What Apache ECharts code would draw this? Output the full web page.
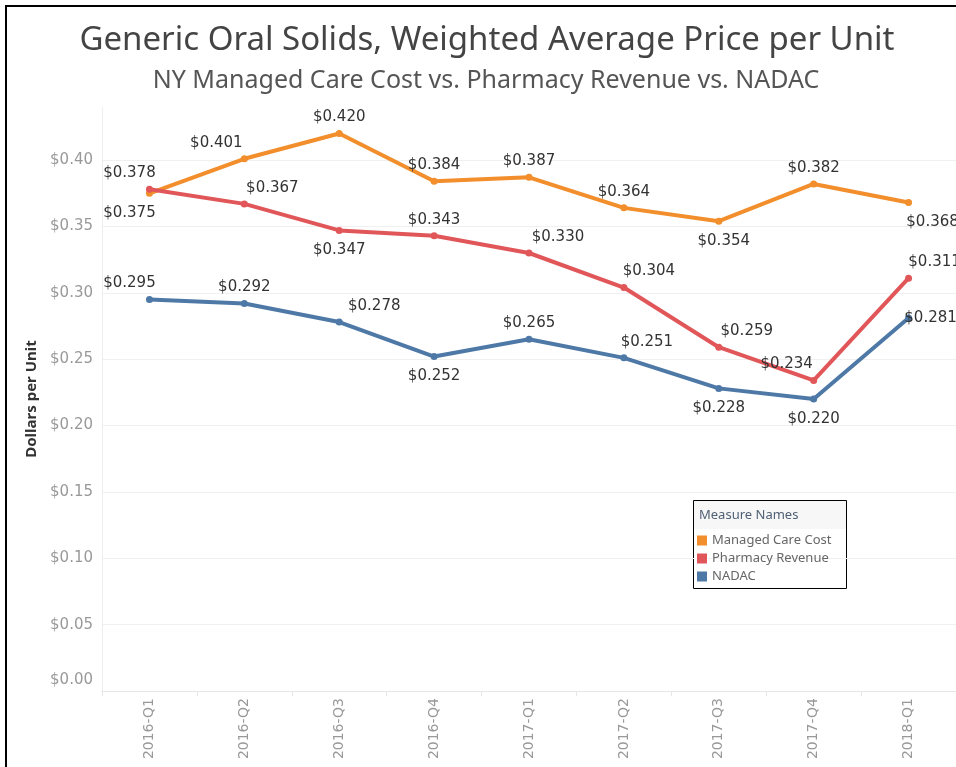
<!DOCTYPE html>
<html lang="en">
<head>
    <meta charset="UTF-8">
    <title>Generic Oral Solids</title>
    <style>
        html, body { margin: 0; padding: 0; background: #fff; }
    </style>
</head>
<body>
    <div id="chart" style="width: 956px; height: 767px;"></div>

    <script src="https://cdn.jsdelivr.net/npm/echarts@6/dist/echarts.min.js"></script>
    <script>
        const quarters = ['2016-Q1', '2016-Q2', '2016-Q3', '2016-Q4', '2017-Q1', '2017-Q2', '2017-Q3', '2017-Q4', '2018-Q1']

        const managedCare = [0.375, 0.401, 0.420, 0.384, 0.387, 0.364, 0.354, 0.382, 0.368]
        const pharmacyRevenue = [0.378, 0.367, 0.347, 0.343, 0.330, 0.304, 0.259, 0.234, 0.311]
        const nadac = [0.295, 0.292, 0.278, 0.252, 0.265, 0.251, 0.228, 0.220, 0.281]

        const seriesNames = ['Managed Care Cost', 'Pharmacy Revenue', 'NADAC']
        const colors = ['#F28E2B', '#E15759', '#4E79A7']

        // where tableau put each mark label (above / below, and a sideways nudge)
        const mcPos = ['bottom', 'top', 'top', 'top', 'top', 'top', 'bottom', 'top', 'bottom']
        const mcDx = [-20, -28, 0, 0, 0, 0, 5, 0, 24]
        const prPos = ['top', 'top', 'bottom', 'top', 'top', 'top', 'top', 'top', 'top']
        const prDx = [-20, 28, 0, 0, 29, 25, 28, -27, 26]
        const naPos = ['top', 'top', 'top', 'bottom', 'top', 'top', 'bottom', 'bottom', 'inside']
        const naDx = [-20, 0, 35, 0, 0, 23, 0, 0, 22]

        const labelFont = 'DejaVu Sans'

        function buildData(values, pos, dx) {
            return values.map(function (v, i) {
                return {
                    value: v,
                    label: {
                        position: pos[i],
                        distance: pos[i] === 'bottom' ? 9 : 5,
                        offset: [dx[i], 0]
                    }
                }
            })
        }

        function makeSeries(name, values, pos, dx, color) {
            return {
                name: name,
                type: 'line',
                data: buildData(values, pos, dx),
                symbol: 'circle',
                symbolSize: 7,
                lineStyle: { width: 4, color: color },
                itemStyle: { color: color },
                label: {
                    show: true,
                    color: '#333',
                    fontFamily: labelFont,
                    fontSize: 15,
                    formatter: function (p) {
                        return '$' + p.value.toFixed(3)
                    }
                },
                emphasis: { disabled: true }
            }
        }

        const myChart = echarts.init(document.getElementById('chart'))

        const option = {
            animation: false,
            color: colors,
            grid: {
                left: 102,
                top: 107,
                width: 858,
                height: 584
            },
            legend: {
                data: seriesNames,
                orient: 'vertical',
                left: 697,
                top: 534,
                padding: 0,
                itemGap: 5,
                itemWidth: 10,
                itemHeight: 10,
                icon: 'rect',
                textStyle: { color: '#666', fontSize: 13, fontFamily: 'Noto Sans' }
            },
            xAxis: {
                type: 'category',
                data: quarters,
                boundaryGap: true,
                axisLine: { lineStyle: { color: '#e6e6e6' } },
                axisTick: { show: true, length: 5, lineStyle: { color: '#e6e6e6' } },
                axisLabel: {
                    rotate: 90,
                    margin: 7,
                    color: '#999',
                    fontSize: 14,
                    fontFamily: labelFont
                },
                splitLine: { show: false }
            },
            yAxis: {
                type: 'value',
                min: 0,
                max: 0.44,
                interval: 0.05,
                name: 'Dollars per Unit',
                nameLocation: 'middle',
                nameRotate: 90,
                nameGap: 62,
                nameTextStyle: { color: '#333', fontSize: 15, fontWeight: 'bold', fontFamily: 'Noto Sans' },
                axisLine: { show: true, lineStyle: { color: '#eeeeee' } },
                axisTick: { show: false },
                axisLabel: {
                    margin: 9,
                    color: '#999',
                    fontSize: 15,
                    fontFamily: labelFont,
                    formatter: function (v) {
                        if (v > 0.401) return ''
                        if (v === 0) return '{z|$0.00}'
                        return '$' + v.toFixed(2)
                    },
                    rich: {
                        z: { color: '#999', fontSize: 15, fontFamily: labelFont, padding: [0, 0, 22, 0] }
                    }
                },
                splitLine: { show: true, showMaxLine: false, lineStyle: { color: '#f0f0f0' } }
            },
            graphic: [
                {
                    type: 'polyline',
                    shape: { points: [[6, 767], [6, 6], [956, 6]] },
                    style: { stroke: '#000', lineWidth: 2, fill: null }
                },
                {
                    type: 'text',
                    x: 487,
                    y: 41,
                    style: {
                        text: 'Generic Oral Solids, Weighted Average Price per Unit',
                        fill: '#444',
                        font: '33px "Noto Sans"',
                        textAlign: 'center',
                        textVerticalAlign: 'middle'
                    }
                },
                {
                    type: 'text',
                    x: 486,
                    y: 81,
                    style: {
                        text: 'NY Managed Care Cost vs. Pharmacy Revenue vs. NADAC',
                        fill: '#555',
                        font: '25px "Noto Sans"',
                        textAlign: 'center',
                        textVerticalAlign: 'middle'
                    }
                },
                {
                    type: 'rect',
                    shape: { x: 693.5, y: 500.5, width: 153, height: 88 },
                    style: { fill: '#fff', stroke: '#000', lineWidth: 1 },
                    z: -1
                },
                {
                    type: 'rect',
                    shape: { x: 694, y: 501, width: 152, height: 28 },
                    style: { fill: '#f7f7f7' },
                    z: -1
                },
                {
                    type: 'text',
                    x: 699,
                    y: 515,
                    style: {
                        text: 'Measure Names',
                        fill: '#4f5f75',
                        font: '13px "Noto Sans"',
                        textVerticalAlign: 'middle'
                    }
                }
            ],
            series: [
                makeSeries(seriesNames[0], managedCare, mcPos, mcDx, colors[0]),
                makeSeries(seriesNames[1], pharmacyRevenue, prPos, prDx, colors[1]),
                makeSeries(seriesNames[2], nadac, naPos, naDx, colors[2])
            ]
        }

        myChart.setOption(option)
    </script>
</body>
</html>
